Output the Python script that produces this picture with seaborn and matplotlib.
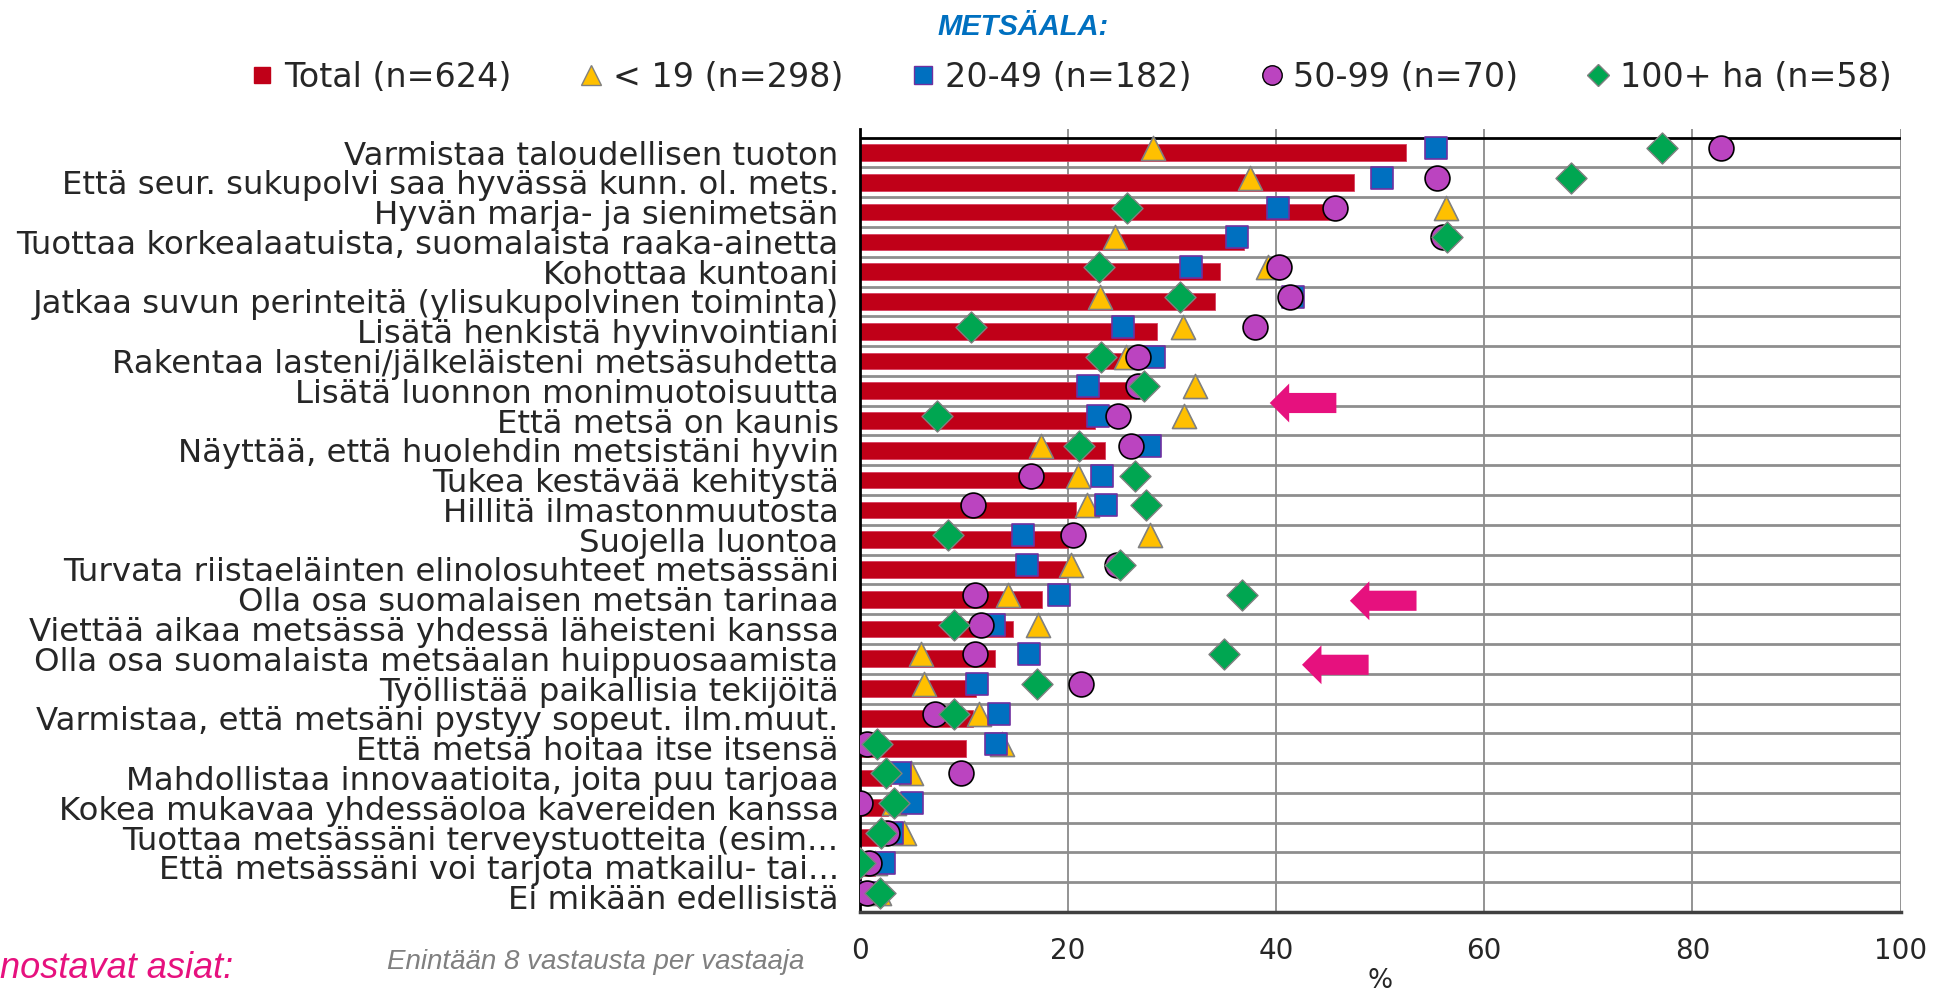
import numpy as np
import pandas as pd
import matplotlib
matplotlib.use("Agg")
import matplotlib.pyplot as plt
from matplotlib.lines import Line2D
from matplotlib.patches import FancyArrowPatch
import seaborn as sns

# Kategoriat (ylhäältä alas)
categories = [
    "Varmistaa taloudellisen tuoton",
    "Että seur. sukupolvi saa hyvässä kunn. ol. mets.",
    "Hyvän marja- ja sienimetsän",
    "Tuottaa korkealaatuista, suomalaista raaka-ainetta",
    "Kohottaa kuntoani",
    "Jatkaa suvun perinteitä (ylisukupolvinen toiminta)",
    "Lisätä henkistä hyvinvointiani",
    "Rakentaa lasteni/jälkeläisteni metsäsuhdetta",
    "Lisätä luonnon monimuotoisuutta",
    "Että metsä on kaunis",
    "Näyttää, että huolehdin metsistäni hyvin",
    "Tukea kestävää kehitystä",
    "Hillitä ilmastonmuutosta",
    "Suojella luontoa",
    "Turvata riistaeläinten elinolosuhteet metsässäni",
    "Olla osa suomalaisen metsän tarinaa",
    "Viettää aikaa metsässä yhdessä läheisteni kanssa",
    "Olla osa suomalaista metsäalan huippuosaamista",
    "Työllistää paikallisia tekijöitä",
    "Varmistaa, että metsäni pystyy sopeut. ilm.muut.",
    "Että metsä hoitaa itse itsensä",
    "Mahdollistaa innovaatioita, joita puu tarjoaa",
    "Kokea mukavaa yhdessäoloa kavereiden kanssa",
    "Tuottaa metsässäni terveystuotteita (esim...",
    "Että metsässäni voi tarjota matkailu- tai...",
    "Ei mikään edellisistä",
]

total = [52.5, 47.5, 45.2, 36.9, 34.6, 34.1, 28.6, 25.5, 26.6, 22.6, 23.6, 21.0, 20.8,
         20.0, 19.8, 17.5, 14.7, 13.0, 11.2, 10.9, 10.2, 3.0, 2.7, 2.0, 1.5, 0.5]
ha_lt19 = [28.2, 37.5, 56.3, 24.5, 39.2, 23.1, 31.1, 25.6, 32.2, 31.2, 17.4, 21.0, 21.8,
           27.9, 20.3, 14.3, 17.1, 5.9, 6.2, 11.5, 13.7, 4.9, 3.3, 4.3, 1.5, 1.9]
ha_20_49 = [55.4, 50.2, 40.2, 36.3, 31.8, 41.6, 25.3, 28.3, 21.9, 22.9, 27.9, 23.3, 23.7,
            15.7, 16.1, 19.2, 12.9, 16.3, 11.3, 13.4, 13.1, 3.9, 5.0, 3.1, 2.3, 0.8]
ha_50_99 = [82.7, 55.5, 45.7, 56.0, 40.3, 41.3, 38.0, 26.7, 26.7, 24.8, 26.1, 16.5, 10.9,
            20.5, 24.7, 11.1, 11.7, 11.1, 21.3, 7.2, 0.7, 9.7, 0.0, 2.6, 0.9, 0.7]
ha_100 = [77.1, 68.3, 25.7, 56.4, 23.0, 30.8, 10.7, 23.2, 27.3, 7.4, 21.1, 26.5, 27.5,
          8.5, 25.0, 36.7, 9.1, 35.0, 17.0, 9.1, 1.7, 2.5, 3.3, 2.1, 0.0, 2.0]

series_labels = ["Total (n=624)", "< 19 (n=298)", "20-49 (n=182)", "50-99 (n=70)", "100+ ha (n=58)"]

# Korostetut rivit (nuolet) ja nuolen kärjen kohta
highlight = ["Lisätä luonnon monimuotoisuutta",
             "Olla osa suomalaisen metsän tarinaa",
             "Olla osa suomalaista metsäalan huippuosaamista"]
highlight_x = [39.4, 47.1, 42.5]
highlight_dy = [0.41, 0.05, 0.2]

RED = "#C00018"
YELLOW = "#FFC000"
BLUE = "#0070C0"
PURPLE = "#BB44C0"
GREEN = "#00A651"
PINK = "#E6117E"

df = pd.DataFrame({"kategoria": categories, "total": total, "lt19": ha_lt19,
                   "h20": ha_20_49, "h50": ha_50_99, "h100": ha_100})
df["pos"] = np.arange(len(df)) - 0.15

sns.set_style("white")
plt.rcParams["font.family"] = ["DejaVu Sans"]

fig = plt.figure(figsize=(19.39, 9.9), dpi=100)
ax = fig.add_axes([0.4433, 0.0788, 0.5369, 0.7909])

sns.barplot(data=df, x="total", y="kategoria", orient="h", color=RED, width=0.56,
            edgecolor="#D84060", linewidth=0.6, saturation=1, ax=ax, zorder=2)

common = dict(ax=ax, legend=False, zorder=3)
sns.scatterplot(data=df, x="lt19", y="pos", marker="^", s=300, color=YELLOW,
                edgecolor="#808080", linewidth=1.2, **common)
sns.scatterplot(data=df, x="h20", y="pos", marker="s", s=250, color=BLUE,
                edgecolor="#7030A0", linewidth=1.2, **common)
sns.scatterplot(data=df, x="h50", y="pos", marker="o", s=320, color=PURPLE,
                edgecolor="black", linewidth=1.2, **common)
sns.scatterplot(data=df, x="h100", y="pos", marker="D", s=250, color=GREEN,
                edgecolor="#808080", linewidth=1.0, **common)

n = len(categories)
ax.set_xlim(0, 100)
ax.set_ylim(n - 0.5, -0.79)
ax.set_yticks(np.arange(n))
ax.set_yticklabels(categories, fontsize=23.3)
ax.set_yticks(np.arange(n + 1) - 0.5, minor=True)
ax.tick_params(axis="y", which="major", length=0, pad=15)
ax.tick_params(axis="y", which="minor", length=6, width=1.2, color="black", direction="out")
ax.set_xticks([0, 20, 40, 60, 80, 100])
ax.tick_params(axis="x", length=0, pad=18, labelsize=20)
ax.set_xlabel("%", fontsize=19, labelpad=2)
ax.set_ylabel("")

# ruudukko
for xv in [20, 40, 60, 80, 100]:
    ax.axvline(xv, color="#8A8A8A", lw=1.3, zorder=0)
for b in np.arange(1, n) - 0.5:
    ax.axhline(b, color="#8E8E8E", lw=2, zorder=0)
ax.axhline(-0.5, color="black", lw=2, zorder=1)

for side in ["top", "right"]:
    ax.spines[side].set_visible(False)
ax.spines["left"].set_color("black")
ax.spines["left"].set_linewidth(2)
ax.spines["bottom"].set_color("#404040")
ax.spines["bottom"].set_linewidth(2.5)

# nuolet
for lab, xt, dy in zip(highlight, highlight_x, highlight_dy):
    yy = categories.index(lab) + dy
    arr = FancyArrowPatch((xt + 6.4, yy), (xt, yy),
                          arrowstyle="simple,head_width=2.8,head_length=1.4,tail_width=1.45",
                          mutation_scale=10, color=PINK, lw=0, shrinkA=0, shrinkB=0, zorder=4)
    ax.add_patch(arr)

# selite
handles = [
    Line2D([], [], ls="none", marker="s", ms=12, mfc=RED, mec=RED),
    Line2D([], [], ls="none", marker="^", ms=14, mfc=YELLOW, mec="#808080"),
    Line2D([], [], ls="none", marker="s", ms=13, mfc=BLUE, mec="#7030A0"),
    Line2D([], [], ls="none", marker="o", ms=14, mfc=PURPLE, mec="black"),
    Line2D([], [], ls="none", marker="D", ms=11, mfc=GREEN, mec="#808080"),
]
fig.legend(handles, series_labels, loc="center", bbox_to_anchor=(0.552, 0.922), ncol=5,
           frameon=False, fontsize=24, handlelength=0.8, handletextpad=0.25,
           columnspacing=2.0)

fig.text(0.5275, 0.973, "METSÄALA:", ha="center", va="center", color=BLUE, fontsize=21,
         fontweight="bold", fontstyle="italic", family="Liberation Sans")
fig.text(0.0, 0.022, "nostavat asiat:", ha="left", va="center", color=PINK, fontsize=26,
         fontstyle="italic", family="Liberation Sans")
fig.text(0.415, 0.028, "Enintään 8 vastausta per vastaaja", ha="right", va="center",
         color="#808080", fontsize=20, fontstyle="italic", family="Liberation Sans")

fig.savefig("out.png", dpi=100)
